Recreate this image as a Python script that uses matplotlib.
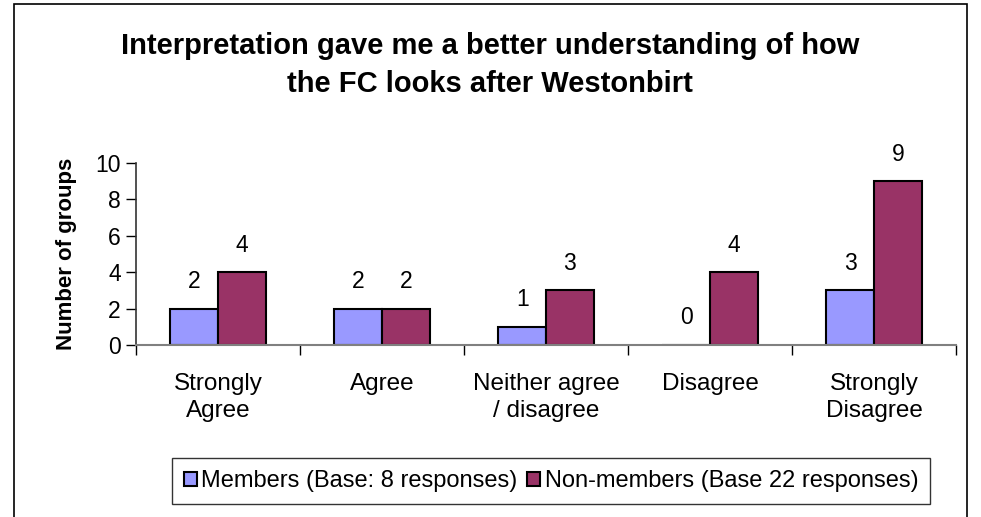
import matplotlib
matplotlib.use("Agg")
import matplotlib.pyplot as plt
from matplotlib.patches import Rectangle
import numpy as np

plt.rcParams['font.family'] = ['Liberation Sans', 'DejaVu Sans']

categories = ["Strongly\nAgree", "Agree", "Neither agree\n/ disagree", "Disagree", "Strongly\nDisagree"]
members = [2, 2, 1, 0, 3]
non_members = [4, 2, 3, 4, 9]
series_names = ["Members (Base: 8 responses)", "Non-members (Base 22 responses)"]
title = "Interpretation gave me a better understanding of how\nthe FC looks after Westonbirt"

fig = plt.figure(figsize=(9.81, 5.17), dpi=100)
# outer chart border
fig.patches.append(Rectangle((14/981, -0.01), (967-14)/981, 1.01 - 4/517,
                             transform=fig.transFigure, fill=False,
                             edgecolor="#000000", linewidth=1.2))

ax = fig.add_axes([136/981, 1-345/517, (956-136)/981, (345-163)/517])

x = np.arange(len(categories)) + 0.5
w = 0.29
b1 = ax.bar(x - w/2, members, w, color="#9999FF", edgecolor="black", linewidth=1.5, label=series_names[0])
b2 = ax.bar(x + w/2, non_members, w, color="#993366", edgecolor="black", linewidth=1.5, label=series_names[1])

for bars, vals in ((b1, members), (b2, non_members)):
    for r, v in zip(bars, vals):
        ax.annotate(str(v), (r.get_x() + r.get_width()/2, v), xytext=(0, 19.5),
                    textcoords="offset points", ha="center", va="center", fontsize=16.5)

ax.set_xlim(0, 5)
ax.set_ylim(0, 10)
ax.set_yticks(range(0, 11, 2))
ax.set_xticks(x)
ax.set_xticklabels(categories, fontsize=17.5, linespacing=1.3)
ax.set_xticks(np.arange(0, 6), minor=True)
ax.tick_params(axis="x", which="major", length=0, pad=20)
ax.tick_params(axis="x", which="minor", length=7, width=1, color="black", direction="out")
ax.tick_params(axis="y", length=7, width=1, labelsize=16.5, color="black", pad=4)

for s in ("top", "right"):
    ax.spines[s].set_visible(False)
ax.spines["bottom"].set_color("#808080")
ax.spines["bottom"].set_linewidth(1.5)
ax.spines["left"].set_color("#333333")
ax.spines["left"].set_linewidth(1.2)

ax.set_ylabel("Number of groups", fontsize=16, fontweight="bold", labelpad=13)

fig.text(490/981, 1-65/517, title, ha="center", va="center", fontsize=21,
         fontweight="bold", linespacing=1.5)

leg = fig.legend(loc="center", bbox_to_anchor=(551/981, 1-481/517), ncol=2, fontsize=17,
                 frameon=True, fancybox=False, edgecolor="#000000",
                 handlelength=0.55, handleheight=0.55, handletextpad=0.2,
                 columnspacing=0.4, borderpad=0.5, borderaxespad=0)
leg.get_frame().set_linewidth(1.0)

fig.savefig("out.png", dpi=100)
